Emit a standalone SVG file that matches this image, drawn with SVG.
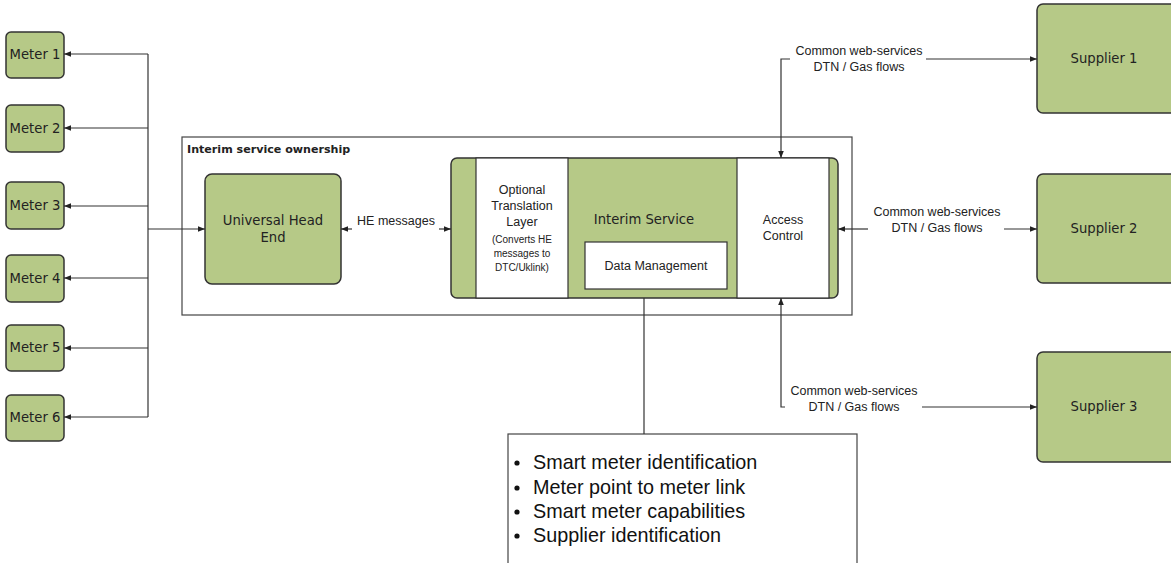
<svg xmlns="http://www.w3.org/2000/svg" width="1171" height="563" viewBox="0 0 1171 563">
<defs>
<marker id="ah" viewBox="0 0 10 10" refX="10" refY="5" markerWidth="7" markerHeight="7" markerUnits="userSpaceOnUse" orient="auto">
<path d="M0,1 L10,5 L0,9 z" fill="#222"/>
</marker>
</defs>
<style>
.g{fill:#b6c987;stroke:#333;stroke-width:1.5}
.w{fill:#fff;stroke:#333;stroke-width:1.2}
.ln{fill:none;stroke:#333;stroke-width:1.2}
.v{font-family:"DejaVu Sans",Verdana,sans-serif;font-size:13.2px;fill:#222;text-anchor:middle}
.a{font-family:"Liberation Sans",Arial,sans-serif;font-size:12.5px;fill:#222;text-anchor:middle}
.s{font-family:"Liberation Sans",Arial,sans-serif;font-size:10px;fill:#222;text-anchor:middle}
.b{font-family:"Liberation Sans",Arial,sans-serif;font-size:19.8px;fill:#111}
</style>
<rect width="1171" height="563" fill="#fff"/>

<g id="interim-ownership">
<rect x="182" y="137" width="670" height="178" fill="none" stroke="#444" stroke-width="1.2"/>
<text x="187" y="153" font-family="DejaVu Sans,Verdana,sans-serif" font-size="11.1" font-weight="bold" fill="#222">Interim service ownership</text>
</g>

<g id="meter1"><rect class="g" x="6" y="32" width="58" height="46" rx="5"/><text class="v" x="35" y="59">Meter 1</text></g>
<g id="meter2"><rect class="g" x="6" y="105" width="58" height="47" rx="5"/><text class="v" x="35" y="133">Meter 2</text></g>
<g id="meter3"><rect class="g" x="6" y="182" width="58" height="47" rx="5"/><text class="v" x="35" y="210">Meter 3</text></g>
<g id="meter4"><rect class="g" x="6" y="255" width="58" height="47" rx="5"/><text class="v" x="35" y="283">Meter 4</text></g>
<g id="meter5"><rect class="g" x="6" y="325" width="58" height="46" rx="5"/><text class="v" x="35" y="352">Meter 5</text></g>
<g id="meter6"><rect class="g" x="6" y="395" width="58" height="46" rx="5"/><text class="v" x="35" y="422">Meter 6</text></g>

<g id="universal-head-end">
<rect class="g" x="205" y="174" width="136" height="110" rx="7"/>
<text class="v" x="273" y="225">Universal Head</text>
<text class="v" x="273" y="242">End</text>
</g>

<g id="interim-service">
<rect class="g" x="451" y="158" width="387" height="140" rx="6"/>
<text class="v" x="644" y="224">Interim Service</text>
</g>
<g id="translation-layer">
<rect class="w" x="476" y="158" width="92" height="140"/>
<text class="a" x="522" y="194">Optional</text>
<text class="a" x="522" y="210">Translation</text>
<text class="a" x="522" y="226">Layer</text>
<text class="s" x="522" y="243">(Converts HE</text>
<text class="s" x="522" y="257">messages to</text>
<text class="s" x="522" y="271">DTC/Uklink)</text>
</g>
<g id="data-management">
<rect class="w" x="585" y="242" width="142" height="47"/>
<text class="a" x="656" y="270">Data Management</text>
</g>
<g id="access-control">
<rect class="w" x="737" y="158" width="92" height="140"/>
<text class="a" x="783" y="224">Access</text>
<text class="a" x="783" y="240">Control</text>
</g>

<g id="supplier1"><rect class="g" x="1037" y="4" width="140" height="109" rx="6"/><text class="v" x="1104" y="63">Supplier 1</text></g>
<g id="supplier2"><rect class="g" x="1037" y="174" width="140" height="109" rx="6"/><text class="v" x="1104" y="233">Supplier 2</text></g>
<g id="supplier3"><rect class="g" x="1037" y="352" width="140" height="110" rx="6"/><text class="v" x="1104" y="411">Supplier 3</text></g>

<g id="bullet-box">
<rect x="508" y="434" width="349" height="140" fill="#fff" stroke="#444" stroke-width="1.2"/>
<g class="b">
<circle cx="517" cy="463" r="2.6" fill="#111"/><text x="533" y="469">Smart meter identification</text>
<circle cx="517" cy="488" r="2.6" fill="#111"/><text x="533" y="494">Meter point to meter link</text>
<circle cx="517" cy="512" r="2.6" fill="#111"/><text x="533" y="518">Smart meter capabilities</text>
<circle cx="517" cy="536" r="2.6" fill="#111"/><text x="533" y="542">Supplier identification</text>
</g>
</g>

<g id="connectors">
<path class="ln" d="M148,54 V417"/>
<path class="ln" d="M148,54 H64" marker-end="url(#ah)"/>
<path class="ln" d="M148,128 H64" marker-end="url(#ah)"/>
<path class="ln" d="M148,206 H64" marker-end="url(#ah)"/>
<path class="ln" d="M148,278 H64" marker-end="url(#ah)"/>
<path class="ln" d="M148,348 H64" marker-end="url(#ah)"/>
<path class="ln" d="M148,417 H64" marker-end="url(#ah)"/>
<path class="ln" d="M148,229 H205" stroke-width="1.8" marker-end="url(#ah)"/>

<path class="ln" d="M352,229 H341" marker-end="url(#ah)"/>
<path class="ln" d="M439,229 H451" marker-end="url(#ah)"/>
<text class="a" x="396" y="225" font-size="13">HE messages</text>

<path class="ln" d="M790,59 H781 V158" marker-end="url(#ah)"/>
<path class="ln" d="M926,59 H1037" marker-end="url(#ah)"/>
<text class="a" x="859" y="55">Common web-services</text>
<text class="a" x="859" y="71">DTN / Gas flows</text>

<path class="ln" d="M868,229 H838" marker-end="url(#ah)"/>
<path class="ln" d="M1004,229 H1037" marker-end="url(#ah)"/>
<text class="a" x="937" y="216">Common web-services</text>
<text class="a" x="937" y="232">DTN / Gas flows</text>

<path class="ln" d="M785,407 H781 V298" marker-end="url(#ah)"/>
<path class="ln" d="M922,407 H1037" marker-end="url(#ah)"/>
<text class="a" x="854" y="395">Common web-services</text>
<text class="a" x="854" y="411">DTN / Gas flows</text>

<path class="ln" d="M644,298 V434"/>
</g>
</svg>
